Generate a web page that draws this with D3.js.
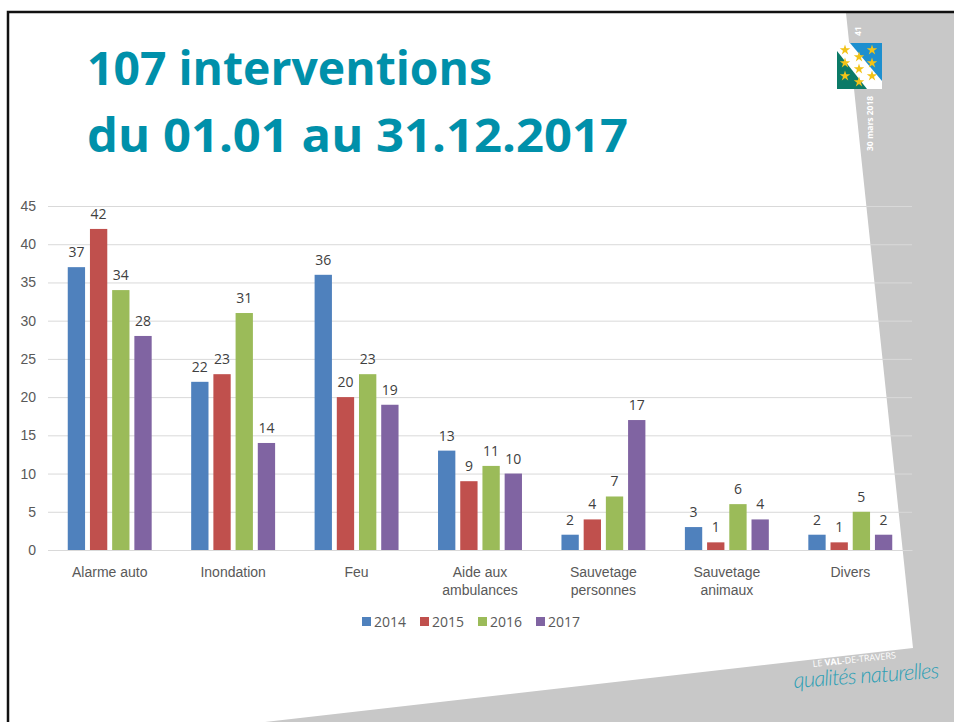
<!DOCTYPE html>
<html>
<head>
<meta charset="utf-8">
<script src="https://cdn.jsdelivr.net/npm/d3@7"></script>
<style>
  html, body { margin: 0; padding: 0; background: #fff; }
  svg { display: block; font-family: "Open Sans", "Noto Sans", sans-serif; }
  .grid line { stroke: #d9d9d9; stroke-width: 1; }
  .grid .domain { display: none; }
  .y-axis text, .x-axis text { fill: #595959; font-size: 14px; }
  .x-axis .domain { stroke: #d9d9d9; }
  .val { fill: #404040; font-size: 14px; text-anchor: middle; }
</style>
</head>
<body>
<div id="chart"></div>
<script>
// data
const categories = [["Alarme auto"], ["Inondation"], ["Feu"], ["Aide aux", "ambulances"],
  ["Sauvetage", "personnes"], ["Sauvetage", "animaux"], ["Divers"]];
const years = ["2014", "2015", "2016", "2017"];
const values2014 = [37, 22, 36, 13, 2, 3, 2];
const values2015 = [42, 23, 20, 9, 4, 1, 1];
const values2016 = [34, 31, 23, 11, 7, 6, 5];
const values2017 = [28, 14, 19, 10, 17, 4, 2];
const yTicks = [0, 5, 10, 15, 20, 25, 30, 35, 40, 45];
const titleLines = ["107 interventions", "du 01.01 au 31.12.2017"];

const seriesColor = d3.scaleOrdinal()
  .domain(years)
  .range(["#4f81bd", "#c0504d", "#9bbb59", "#8064a2"]);

const series = [values2014, values2015, values2016, values2017];

const WIDTH = 954, HEIGHT = 722;
const M = { left: 48, right: 42, top: 206, bottom: 172 };

const svg = d3.select("#chart").append("svg")
  .attr("width", WIDTH).attr("height", HEIGHT);

// slide decoration: grey wedge on the right + bottom, black frame
svg.append("path")
  .attr("d", "M846,13 L954,13 L954,722 L265,722 L913,648 Z")
  .attr("fill", "#c8c8c8");
svg.append("path")
  .attr("d", "M8,722 L8,12 L954,12")
  .attr("fill", "none").attr("stroke", "#111").attr("stroke-width", 2.5);

// title
svg.append("g").selectAll("text").data(titleLines).join("text")
  .attr("x", 87)
  .attr("y", (d, i) => 85 + i * 67)
  .attr("fill", "#0090aa")
  .attr("font-weight", 700)
  .attr("font-size", 47)
  .attr("textLength", (d, i) => i === 0 ? 405 : 541)
  .attr("lengthAdjust", "spacingAndGlyphs")
  .text(d => d);

// scales
const x0 = d3.scaleBand()
  .domain(d3.range(categories.length))
  .range([M.left, WIDTH - M.right])
  .paddingInner(0.32)
  .paddingOuter(0.16);
const x1 = d3.scaleBand()
  .domain(years)
  .range([0, x0.bandwidth()])
  .paddingInner(0.22);
const y = d3.scaleLinear().domain([0, 45]).range([HEIGHT - M.bottom, M.top]);

// gridlines
svg.append("g").attr("class", "grid")
  .attr("transform", `translate(${M.left},0)`)
  .call(d3.axisLeft(y).tickValues(yTicks).tickSize(-(WIDTH - M.left - M.right)).tickFormat(""));

// y labels
svg.append("g").attr("class", "y-axis")
  .attr("transform", `translate(${M.left},0)`)
  .call(d3.axisLeft(y).tickValues(yTicks).tickSize(0).tickPadding(12))
  .call(g => g.select(".domain").remove());

// x axis (zero line + category labels)
const gX = svg.append("g").attr("class", "x-axis")
  .attr("transform", `translate(0,${y(0)})`)
  .call(d3.axisBottom(x0).tickSize(0).tickSizeOuter(0).tickFormat(""));
gX.selectAll(".tick").append("text")
  .attr("text-anchor", "middle")
  .selectAll("tspan").data(i => categories[i]).join("tspan")
  .attr("x", 0)
  .attr("y", (d, j) => 27 + j * 18)
  .text(d => d);

// bars
const groups = svg.append("g").selectAll("g.group")
  .data(categories.map((c, i) => i))
  .join("g").attr("class", "group")
  .attr("transform", i => `translate(${x0(i)},0)`);

const cells = groups.selectAll("g.cell")
  .data(i => years.map((yr, k) => ({ year: yr, value: series[k][i] })))
  .join("g").attr("class", "cell");

cells.append("rect")
  .attr("x", d => x1(d.year))
  .attr("width", x1.bandwidth())
  .attr("y", d => y(d.value))
  .attr("height", d => y(0) - y(d.value))
  .attr("fill", d => seriesColor(d.year));

cells.append("text").attr("class", "val")
  .attr("x", d => x1(d.year) + x1.bandwidth() / 2)
  .attr("y", d => y(d.value) - 10)
  .text(d => d.value);

// legend
const legend = svg.append("g").attr("transform", "translate(362,617)");
const items = legend.selectAll("g").data(years).join("g")
  .attr("transform", (d, i) => `translate(${i * 58},0)`);
items.append("rect").attr("width", 9).attr("height", 9).attr("fill", d => seriesColor(d));
items.append("text").attr("x", 12).attr("y", 9.5)
  .attr("fill", "#595959").attr("font-size", 14).text(d => d);

// top-right emblem
const flag = svg.append("g").attr("transform", "translate(837,43)");
flag.append("clipPath").attr("id", "flagclip")
  .append("rect").attr("width", 45).attr("height", 46);
const fc = flag.append("g").attr("clip-path", "url(#flagclip)");
fc.append("rect").attr("width", 45).attr("height", 46).attr("fill", "#1d8fcf");
fc.append("path").attr("d", "M0,0 L13,0 L45,38 L45,46 L0,46 Z").attr("fill", "#ffffff");
fc.append("path").attr("d", "M0,8 L30,46 L0,46 Z").attr("fill", "#0b7a67");
const starPos = [[8, 7], [22, 14], [35, 7], [8, 20], [22, 26], [35, 20], [8, 33], [22, 39], [35, 33]];
fc.selectAll("path.star").data(starPos).join("path").attr("class", "star")
  .attr("transform", d => `translate(${d[0]},${d[1]})`)
  .attr("d", d3.symbol().type(d3.symbolStar).size(34))
  .attr("fill", "#f2c318");
svg.append("text").attr("transform", "translate(861,36) rotate(-90)")
  .attr("fill", "#fff").attr("font-size", 8.5).attr("font-weight", 700).text("41");
svg.append("text").attr("transform", "translate(873,151) rotate(-90)")
  .attr("fill", "#fff").attr("font-size", 8.5).attr("font-weight", 700).text("30 mars 2018");

// bottom-right brand
const brand = svg.append("g").attr("transform", "translate(813,667) rotate(-6)");
brand.append("text").attr("font-size", 9).attr("fill", "#fff")
  .html('LE <tspan font-weight="700">VAL</tspan>-DE-TRAVERS');
svg.append("text").attr("transform", "translate(794,688) rotate(-4)")
  .attr("font-family", "Lato, sans-serif").attr("font-style", "italic").attr("font-weight", 300)
  .attr("font-size", 22).attr("fill", "#2c9fb5").attr("textLength", 146)
  .text("qualités naturelles");
</script>
</body>
</html>
